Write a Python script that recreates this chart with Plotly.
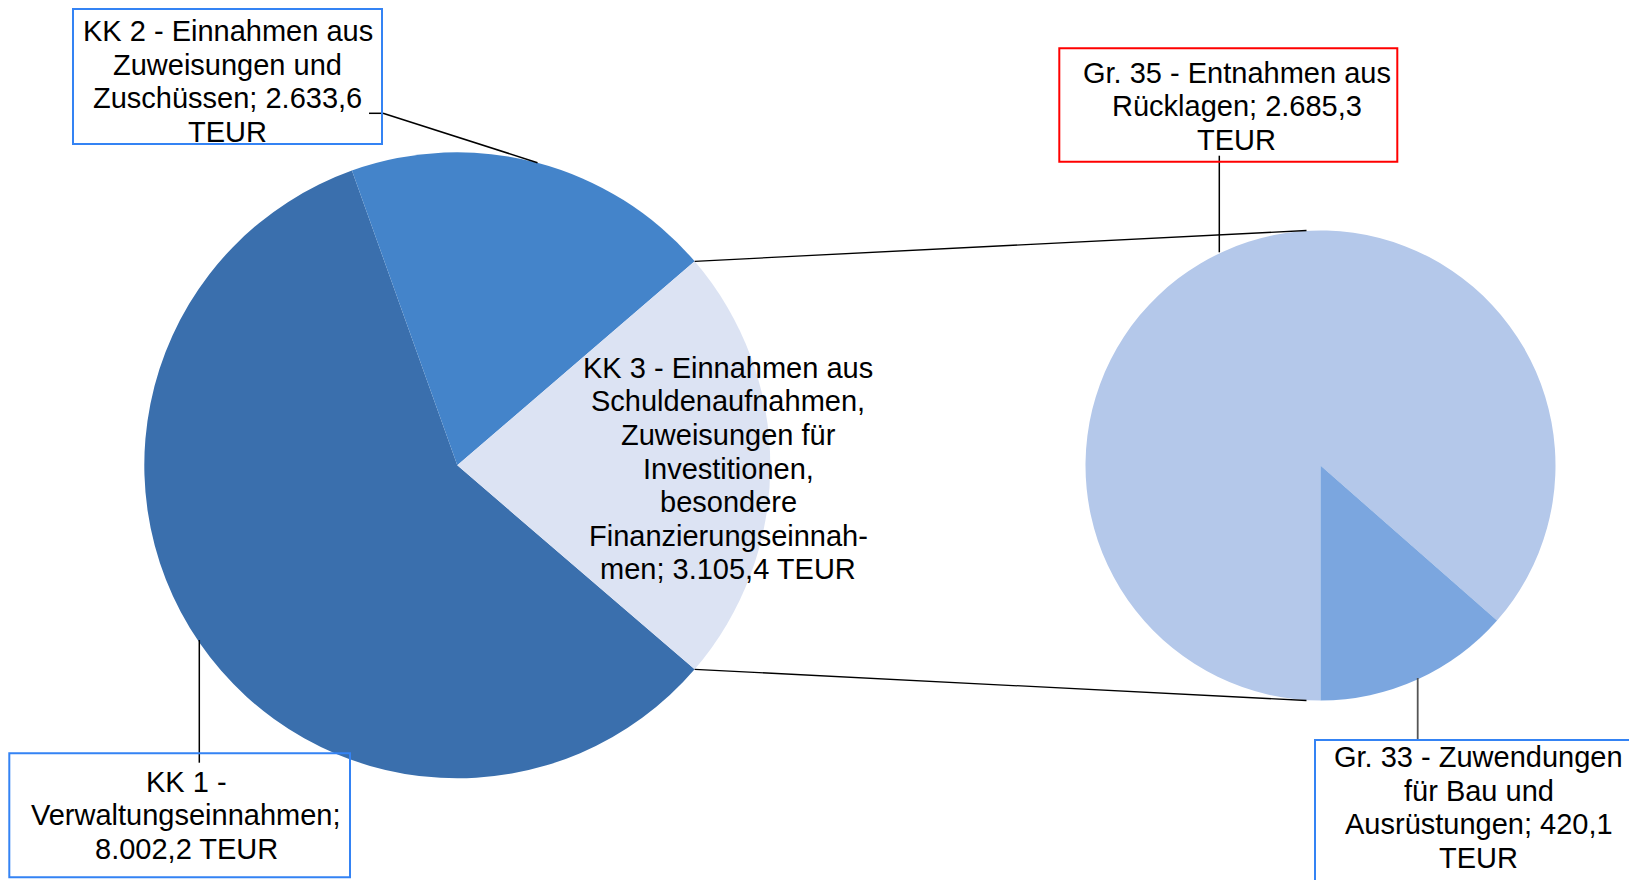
import math
import plotly.graph_objects as go

# ---------------- data ----------------
main_categories = [
    "KK 1 - Verwaltungseinnahmen",
    "KK 2 - Einnahmen aus Zuweisungen und Zuschüssen",
    "KK 3 - Einnahmen aus Schuldenaufnahmen, Zuweisungen für Investitionen, besondere Finanzierungseinnahmen",
]
main_values = [8002.2, 2633.6, 3105.4]
main_colors = ["#3A6FAD", "#4484CA", "#DCE3F3"]

sub_categories = ["Gr. 35 - Entnahmen aus Rücklagen", "Gr. 33 - Zuwendungen für Bau und Ausrüstungen"]
sub_values = [2685.3, 420.1]
sub_colors = ["#B4C8EA", "#7BA6DF"]

main_label_lines = [
    ["KK 1 -", "Verwaltungseinnahmen;", "8.002,2 TEUR"],
    ["KK 2 - Einnahmen aus", "Zuweisungen und", "Zuschüssen; 2.633,6", "TEUR"],
    ["KK 3 - Einnahmen aus", "Schuldenaufnahmen,", "Zuweisungen für", "Investitionen,",
     "besondere", "Finanzierungseinnah-", "men; 3.105,4 TEUR"],
]
sub_label_lines = [
    ["Gr. 35 - Entnahmen aus", "Rücklagen; 2.685,3", "TEUR"],
    ["Gr. 33 - Zuwendungen", "für Bau und", "Ausrüstungen; 420,1", "TEUR"],
]

# ---------------- layout geometry (page pixels) ----------------
W, H = 1637, 880
OFF = 8  # page offset of the figure (body margin)
L_CX, L_CY, L_R = 457.3, 465.3, 313.0
R_CX, R_CY, R_R = 1320.5, 465.5, 235.0
FONT = "Liberation Sans, Arial, sans-serif"
FS = 29
LINE_H = 33.6


def px(x):
    return (x - OFF) / W


def py(y):
    return 1 - (y - OFF) / H


main_total = sum(main_values)
main_rotation = 90 + 180 * main_values[2] / main_total

fig = go.Figure()
fig.add_trace(go.Pie(
    labels=main_categories, values=main_values, sort=False, direction="clockwise",
    rotation=main_rotation, textinfo="none", hoverinfo="label+value",
    marker=dict(colors=main_colors, line=dict(width=0)),
    domain=dict(x=[px(L_CX - L_R), px(L_CX + L_R)], y=[py(L_CY + L_R), py(L_CY - L_R)]),
    showlegend=False,
))
fig.add_trace(go.Pie(
    labels=sub_categories, values=sub_values, sort=False, direction="clockwise",
    rotation=180, textinfo="none", hoverinfo="label+value",
    marker=dict(colors=sub_colors, line=dict(width=0)),
    domain=dict(x=[px(R_CX - R_R), px(R_CX + R_R)], y=[py(R_CY + R_R), py(R_CY - R_R)]),
    showlegend=False,
))

shapes = []


def line(x0, y0, x1, y1, color="black", width=1.5):
    shapes.append(dict(type="line", xref="paper", yref="paper",
                       x0=px(x0), y0=py(y0), x1=px(x1), y1=py(y1),
                       line=dict(color=color, width=width)))


def box(x0, y0, x1, y1, color):
    shapes.append(dict(type="rect", xref="paper", yref="paper",
                       x0=px(x0), y0=py(y0), x1=px(x1), y1=py(y1),
                       line=dict(color=color, width=2), fillcolor="rgba(0,0,0,0)"))


# connector lines from KK3 slice edges to the secondary pie
half_angle = math.pi * main_values[2] / main_total
ex = L_CX + L_R * math.cos(half_angle)
ey_top = L_CY - L_R * math.sin(half_angle)
ey_bot = L_CY + L_R * math.sin(half_angle)
line(ex, ey_top, R_CX - 14, R_CY - R_R, width=1.3)
line(ex, ey_bot, R_CX - 14, R_CY + R_R, width=1.3)

# leader lines
line(369, 113.3, 383, 113.3)
line(383, 113.3, 537.5, 162.7)
line(199.3, 640, 199.3, 762.7)
line(1219.3, 155.7, 1219.3, 252.3)
line(1417.7, 678, 1417.7, 740, color="#555555", width=1.8)

# label boxes
blue = "#3483F4"
box(73, 9, 382, 144, blue)
box(9.3, 753.3, 350, 877.3, blue)
box(1059.3, 48.3, 1397.3, 161.7, "#FF0000")
box(1315, 740, 1636, 884, blue)

annotations = []


def text_block(lines, cx, first_baseline):
    for i, t in enumerate(lines):
        cy = first_baseline + i * LINE_H - 9
        annotations.append(dict(text=t, x=px(cx), y=py(cy), xref="paper", yref="paper",
                                xanchor="center", yanchor="middle", showarrow=False,
                                font=dict(family=FONT, size=FS, color="black")))


text_block(main_label_lines[0], 186.3, 790.7)
text_block(main_label_lines[1], 227.6, 40.0)
text_block(main_label_lines[2], 728.3, 376.7)
text_block(sub_label_lines[0], 1236.7, 81.7)
text_block(sub_label_lines[1], 1478.5, 766.0)

fig.update_layout(
    width=W, height=H, margin=dict(l=0, r=0, t=0, b=0),
    paper_bgcolor="white", plot_bgcolor="white",
    shapes=shapes, annotations=annotations,
)

fig.write_html("out.html")
